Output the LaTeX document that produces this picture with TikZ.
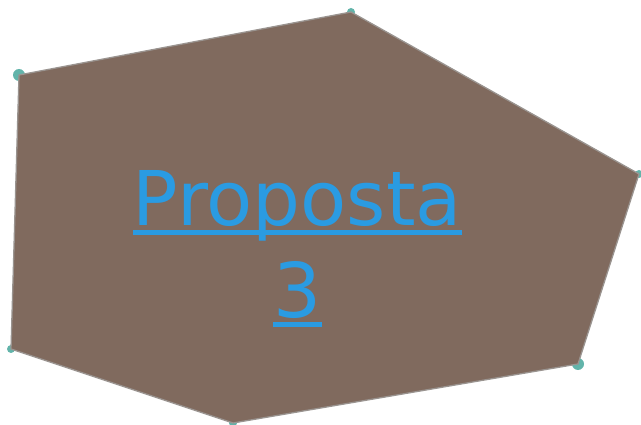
\documentclass[tikz,border=0pt]{standalone}
\usepackage{fontspec}
\setmainfont{DejaVu Sans}
\definecolor{plotfill}{HTML}{806A5E}
\definecolor{plotedge}{HTML}{9A9490}
\definecolor{handle}{HTML}{62B4AA}
\definecolor{linkblue}{HTML}{2A9BE2}
\newlength\ulwd
\newcommand\ultext[1]{\settowidth\ulwd{#1}\rlap{\rule[-9pt]{\ulwd}{4.5pt}}#1}
\tikzset{
  handle/.style={fill=handle, draw=none},
  plot/.style={fill=plotfill, draw=plotedge, line width=1.3pt, line join=round},
  label/.style={anchor=base, text=linkblue, font=\fontsize{75.5}{92}\selectfont, inner sep=0pt}
}
\begin{document}
\begin{tikzpicture}[x=1pt,y=-1pt]
\useasboundingbox (0,0) rectangle (641,425);
% corners of the plot
\coordinate (a) at (19,75);
\coordinate (b) at (351,12);
\coordinate (c) at (639,174);
\coordinate (d) at (578,364);
\coordinate (e) at (233,423);
\coordinate (f) at (11,349);
% handles sit under the shape
\fill[handle] (a) circle (6);
\fill[handle] (b) circle (4);
\fill[handle] (c) circle (4);
\fill[handle] (d) circle (6);
\fill[handle] (e) circle (4);
\fill[handle] (f) circle (4);
\draw[plot] (a) -- (b) -- (c) -- (d) -- (e) -- (f) -- cycle;
\node[label] (title) at (297.5,226) {\ultext{Proposta}};
\node[label] (num) at (297.5,318) {\ultext{3}};
\end{tikzpicture}
\end{document}
